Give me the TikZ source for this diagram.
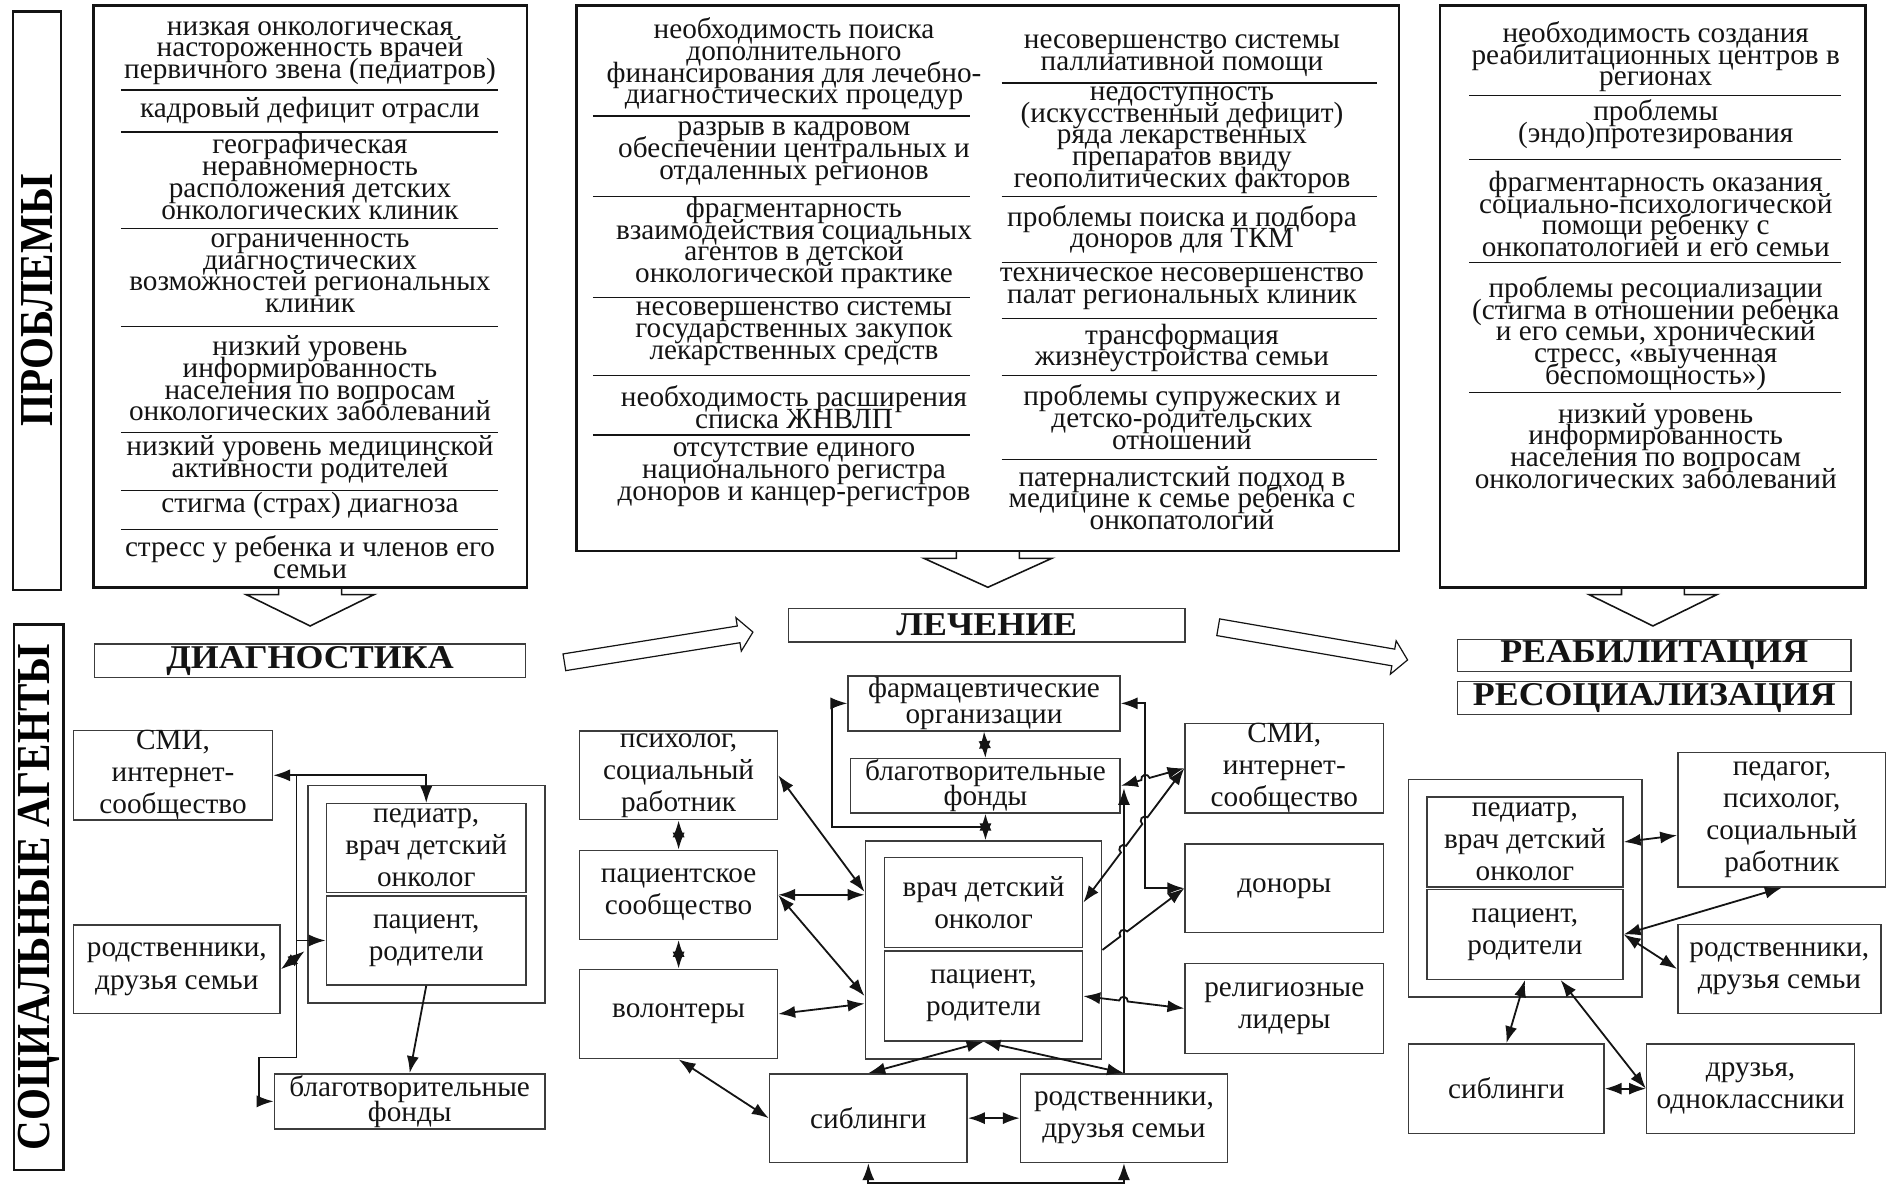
\documentclass[tikz,border=0pt]{standalone}
\usepackage{fontspec}
\setmainfont{Liberation Serif}
\usepackage{graphicx}
\usetikzlibrary{calc, positioning, arrows.meta}
\definecolor{InkBlack}{RGB}{20, 20, 20}
\definecolor{FrameGray}{RGB}{60, 60, 60}
\newcommand{\probtext}{\fontsize{24.2}{18}\selectfont\lineskiplimit=-40pt\lineskip=0pt}
\newcommand{\agenttext}{\fontsize{24.2}{26.5}\selectfont\lineskiplimit=-40pt\lineskip=0pt}
\newcommand{\pairtext}{\fontsize{24.2}{21}\selectfont\lineskiplimit=-40pt\lineskip=0pt}
\newcommand{\stagetext}{\fontsize{27.5}{28}\selectfont\bfseries}
\newcommand{\sidetext}{\fontsize{34}{36}\selectfont\bfseries}

\begin{document}
\begin{tikzpicture}[x=1pt, y=-1pt,
  frame/.style={draw=InkBlack, line width=2pt, inner sep=0pt},
  prob/.style={align=center, font=\probtext, inner sep=0pt, text=InkBlack},
  sepline/.style={line width=1pt, InkBlack},
  side/.style={draw=InkBlack, line width=2pt, rotate=90, font=\sidetext, inner sep=0pt},
  stage/.style={draw=FrameGray, line width=1.2pt, font=\stagetext, inner sep=0pt, text=InkBlack},
  agent/.style={draw=FrameGray, line width=1.2pt, align=center, font=\agenttext, inner sep=0pt, text=InkBlack},
  group/.style={draw=FrameGray, line width=1.2pt, inner sep=0pt},
  size/.style 2 args={minimum width=#1, minimum height=#2},
  chev/.style={line width=1.3pt, InkBlack},
  bigarrow/.style={draw=InkBlack, line width=1pt, fill=white},
  link/.style={line width=1.5pt, InkBlack, {Latex[length=14pt,width=10pt]}-{Latex[length=14pt,width=10pt]}},
  onelink/.style={line width=1.5pt, InkBlack, -{Latex[length=14pt,width=10pt]}},
]
\useasboundingbox (0,0) rectangle (1568,981);

% side labels
\node[side, size={478.5pt}{39.5pt}] (probLabel) at (30.7,248.7) {\scalebox{1}[1.15]{ПРОБЛЕМЫ}};
\node[side, size={451.4pt}{41pt}] (agentLabel) at (32.2,742.3) {\scalebox{1}[1.15]{СОЦИАЛЬНЫЕ АГЕНТЫ}};

% problem frames
\node[frame, size={358.5pt}{481.3pt}] (probDiag) at (256.6,245.3) {};
\node[frame, size={680.8pt}{451.3pt}] (probTreat) at (817.4,230.3) {};
\node[frame, size={352pt}{481.3pt}] (probRehab) at (1367.7,245.3) {};

% problems: diagnostics
\node[prob] (pd1) at (256.5,44) {низкая онкологическая\\настороженность врачей\\первичного звена (педиатров)};
\node[prob] (pd2) at (256.5,91) {кадровый дефицит отрасли};
\node[prob] (pd3) at (256.5,146) {географическая\\неравномерность\\расположения детских\\онкологических клиник};
\node[prob] (pd4) at (256.5,226) {ограниченность\\диагностических\\возможностей региональных\\клиник};
\node[prob] (pd5) at (256.5,313) {низкий уровень\\информированность\\населения по вопросам\\онкологических заболеваний};
\node[prob] (pd6) at (256.5,380) {низкий уровень медицинской\\активности родителей};
\node[prob] (pd7) at (256.5,418) {стигма (страх) диагноза};
\node[prob] (pd8) at (256.5,461) {стресс у ребенка и членов его\\семьи};
\foreach \y in {74.5,109.3,189,270,358,406,438}
  \draw[sepline] (100,\y) -- (412,\y);

% problems: treatment
\node[prob] (pt1) at (657,53) {необходимость поиска\\дополнительного\\финансирования для лечебно-\\диагностических процедур};
\node[prob] (pt2) at (657,127) {разрыв в кадровом\\обеспечении центральных и\\отдаленных регионов};
\node[prob] (pt3) at (657,201) {фрагментарность\\взаимодействия социальных\\агентов в детской\\онкологической практике};
\node[prob] (pt4) at (657,276) {несовершенство системы\\государственных закупок\\лекарственных средств};
\node[prob] (pt5) at (657,337) {необходимость расширения\\списка ЖНВЛП};
\node[prob] (pt6) at (657,393) {отсутствие единого\\национального регистра\\доноров и канцер-регистров};
\foreach \y in {96,162.4,246,311,360}
  \draw[sepline] (490.6,\y) -- (802.7,\y);
\node[prob] (pt7) at (978,46) {несовершенство системы\\паллиативной помощи};
\node[prob] (pt8) at (978,116) {недоступность\\(искусственный дефицит)\\ряда лекарственных\\препаратов ввиду\\геополитических факторов};
\node[prob] (pt9) at (978,190) {проблемы поиска и подбора\\доноров для ТКМ};
\node[prob] (pt10) at (978,239) {техническое несовершенство\\палат региональных клиник};
\node[prob] (pt11) at (978,288) {трансформация\\жизнеустройства семьи};
\node[prob] (pt12) at (978,345) {проблемы супружеских и\\детско-родительских\\отношений};
\node[prob] (pt13) at (978,412) {патерналистский подход в\\медицине к семье ребенка с\\онкопатологий};
\foreach \y in {68.7,162.4,216.9,263.8,311,380}
  \draw[sepline] (828.7,\y) -- (1139.5,\y);

% problems: rehabilitation
\node[prob] (pr1) at (1370,47) {необходимость создания\\реабилитационных центров в\\регионах};
\node[prob] (pr2) at (1370,103) {проблемы\\(эндо)протезирования};
\node[prob] (pr3) at (1370,177) {фрагментарность оказания\\социально-психологической\\помощи ребенку с\\онкопатологией и его семьи};
\node[prob] (pr4) at (1370,276) {проблемы ресоциализации\\(стигма в отношении ребенка\\и его семьи, хронический\\стресс, «выученная\\беспомощность»)};
\node[prob] (pr5) at (1370,369) {низкий уровень\\информированность\\населения по вопросам\\онкологических заболеваний};
\foreach \y in {79.3,131.8,217.4,324.7}
  \draw[sepline] (1215.7,\y) -- (1523.6,\y);

% down arrows
\draw[chev] ($(probDiag.south)+(-26,0)$) -- ++(0,5) -- ++(-27,0) -- ++(53,26) -- ++(53,-26) -- ++(-27,0) -- ++(0,-5);
\draw[chev] ($(probTreat.south)+(-26,0)$) -- ++(0,5) -- ++(-27,0) -- ++(53,24) -- ++(53,-24) -- ++(-27,0) -- ++(0,-5);
\draw[chev] ($(probRehab.south)+(-26,0)$) -- ++(0,5) -- ++(-27,0) -- ++(53,26) -- ++(53,-26) -- ++(-27,0) -- ++(0,-5);

% stages
\node[stage, size={357pt}{27.5pt}] (diagH) at (256.5,546.8) {\scalebox{1.08}[1]{ДИАГНОСТИКА}};
\node[stage, size={328pt}{28pt}] (treatH) at (816.5,517.3) {\scalebox{1.08}[1]{ЛЕЧЕНИЕ}};
\node[stage, size={325.6pt}{26.8pt}] (rehabH) at (1368.8,542.4) {\scalebox{1.08}[1]{РЕАБИЛИТАЦИЯ}};
\node[stage, size={325.6pt}{27.4pt}] (resocH) at (1368.8,577.6) {\scalebox{1.08}[1]{РЕСОЦИАЛИЗАЦИЯ}};

% stage arrows
\begin{scope}[shift={(467,548)}, rotate=9.1]
  \draw[bigarrow] (0,-7) -- (146,-7) -- (146,-14) -- (158,0) -- (146,14) -- (146,7) -- (0,7) -- cycle;
\end{scope}
\begin{scope}[shift={(1008,519)}, rotate=-9.8]
  \draw[bigarrow] (0,-7) -- (147,-7) -- (147,-14) -- (159,0) -- (147,14) -- (147,7) -- (0,7) -- cycle;
\end{scope}

% agents: diagnostics
\node[agent, size={164.5pt}{73.5pt}] (smiL) at (143.2,641.5) {СМИ,\\интернет-\\сообщество};
\node[group, size={196pt}{180pt}] (grpL) at (353,740) {};
\node[agent, size={165.4pt}{73.5pt}] (pedL) at (352.7,701.8) {педиатр,\\врач детский\\онколог};
\node[agent, size={165.4pt}{73.7pt}] (patL) at (352.7,778.2) {пациент,\\родители};
\node[agent, size={171pt}{73.3pt}] (relL) at (146.3,802) {родственники,\\друзья семьи};
\node[agent, size={224pt}{45.5pt}, font=\pairtext] (fundL) at (339,911.3) {благотворительные\\фонды};
\coordinate (trunkL) at (245.4,641.5);
\draw[link] (smiL.east) -| (pedL.north);
\draw[onelink] (trunkL) -- (245.4,875) -- (214.4,875) |- (fundL.west);
\draw[onelink] (trunkL |- patL.west) -- (patL.west);
\draw[link] (relL.east) -- (252,787);
\draw[onelink] (patL.south) -- (fundL.north);

% agents: treatment
\node[agent, size={225pt}{45.4pt}, font=\pairtext] (pharmM) at (814.2,582) {фармацевтические\\организации};
\node[agent, size={223pt}{45pt}, font=\pairtext] (fundM) at (815.4,650.2) {благотворительные\\фонды};
\node[agent, size={163.7pt}{73.5pt}] (psyM) at (561.5,641.5) {психолог,\\социальный\\работник};
\node[agent, size={163.7pt}{73.6pt}] (commM) at (561.5,740.4) {пациентское\\сообщество};
\node[agent, size={163.7pt}{74pt}] (volM) at (561.5,839) {волонтеры};
\node[group, size={195.6pt}{180.2pt}] (grpM) at (813.8,786) {};
\node[agent, size={164pt}{74.3pt}] (docM) at (813.8,746.8) {врач детский\\онколог};
\node[agent, size={164pt}{74.3pt}] (patM) at (813.8,824.2) {пациент,\\родители};
\node[agent, size={164.2pt}{74.2pt}] (smiM) at (1062.7,635.6) {СМИ,\\интернет-\\сообщество};
\node[agent, size={164.2pt}{73.3pt}] (donM) at (1062.7,735) {доноры};
\node[agent, size={164.2pt}{74.2pt}] (relgM) at (1062.7,834.4) {религиозные\\лидеры};
\node[agent, size={163.6pt}{73.3pt}] (sibM) at (718.5,925.2) {сиблинги};
\node[agent, size={171.2pt}{73.3pt}] (relM) at (930,925.2) {родственники,\\друзья семьи};
\coordinate (railM) at (947.5,582);
\draw[link] (pharmM.south) -- (fundM.north);
\draw[link] (fundM.south) -- (fundM.south |- grpM.north);
\draw[onelink] (fundM.south |- 0,684.4) -- (688.2,684.4) |- (pharmM.west);
\draw[link] (pharmM.east) -- (railM) |- (donM.west);
\draw[onelink] (relM.north) -- (relM.north |- 0,652);
% crossings jump over the two vertical lines
\draw[link] (fundM.east) -- ($(fundM.east)!0.322!(smiM.west)$)
  arc[start angle=195.2, end angle=15.2, radius=3.5pt] -- (smiM.west);
\draw[link] (docM.east) -- ($(docM.east)!0.372!(smiM.west)$)
  arc[start angle=232.7, end angle=52.7, radius=3.5pt] -- ($(docM.east)!0.584!(smiM.west)$)
  arc[start angle=232.7, end angle=52.7, radius=3.5pt] -- (smiM.west);
\draw[onelink] (grpM.east) -- ($(grpM.east)!0.218!(donM.west)$)
  arc[start angle=216.5, end angle=36.5, radius=3.5pt] -- (donM.west);
\draw[link] (patM.east) -- ($(patM.east)!0.356!(relgM.west)$)
  arc[start angle=173.1, end angle=-6.9, radius=3.5pt] -- (relgM.west);
\draw[link] (psyM.east) -- (grpM.west |- 0,738);
\draw[link] (commM.east) -- (grpM.west |- commM.east);
\draw[link] (commM.east) -- (grpM.west |- patM.west);
\draw[link] (volM.east) -- (grpM.west |- 0,830.4);
\draw[link] (psyM.south) -- (commM.north);
\draw[link] (commM.south) -- (volM.north);
\draw[link] (volM.south) -- (sibM.west);
\draw[link] (sibM.north) -- (patM.south);
\draw[link] (relM.north) -- (patM.south);
\draw[link] (sibM.east) -- (relM.west);
\draw[link] (sibM.south) -- (sibM.south |- 0,978.7) -| (relM.south);

% agents: rehabilitation
\node[group, size={193pt}{180pt}] (grpR) at (1262,734.9) {};
\node[agent, size={162.2pt}{74.5pt}] (pedR) at (1261.8,696.7) {педиатр,\\врач детский\\онколог};
\node[agent, size={162.2pt}{74.2pt}] (patR) at (1261.8,773.2) {пациент,\\родители};
\node[agent, size={172pt}{111.3pt}] (tchR) at (1474.3,678.3) {педагог,\\психолог,\\социальный\\работник};
\node[agent, size={168pt}{73.8pt}] (relR) at (1472.3,801.8) {родственники,\\друзья семьи};
\node[agent, size={161.7pt}{74pt}] (sibR) at (1246.4,900.8) {сиблинги};
\node[agent, size={172pt}{74pt}] (frR) at (1448.5,900.8) {друзья,\\одноклассники};
\draw[link] (pedR.east) -- ($(tchR.west)+(0,12.9)$);
\draw[link] (patR.east) -- (tchR.south);
\draw[link] (patR.east) -- (relR.west);
\draw[link] (patR.south) -- (sibR.north);
\draw[link] ($(patR.south)+(29.5,0)$) -- (frR.west);
\draw[link] (sibR.east) -- (frR.west);
\end{tikzpicture}
\end{document}
